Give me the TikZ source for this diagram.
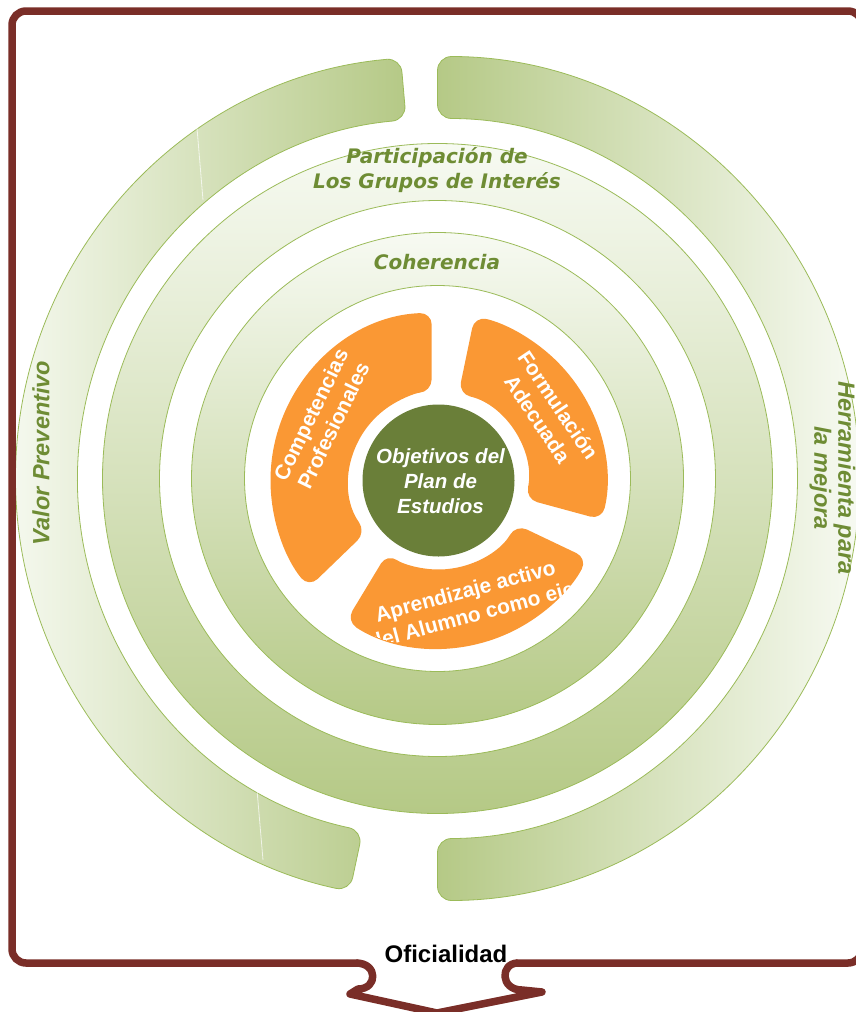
\documentclass[tikz,border=0pt]{standalone}
\usepackage{fontspec}
\setmainfont{Liberation Sans}
\newfontfamily\dejav{DejaVu Sans}
\begin{document}
\begin{tikzpicture}[x=1pt,y=1pt]
\definecolor{brn}{RGB}{122,46,40}
\definecolor{gdark}{RGB}{181,201,134}
\definecolor{glight}{RGB}{247,250,242}
\definecolor{gline}{RGB}{155,187,89}
\definecolor{olv}{RGB}{110,140,52}
\definecolor{orng}{RGB}{250,152,52}
\definecolor{cgreen}{RGB}{106,127,57}
\tikzset{
  band/.style={draw=gline, line width=0.8pt},
  ringlbl/.style={text=olv, font=\dejav\bfseries\itshape\fontsize{20}{25}\selectfont, align=center, inner sep=0pt},
  sidelbl/.style={text=olv, font=\bfseries\itshape\fontsize{23.5}{24}\selectfont, align=center, inner sep=0pt},
  otext/.style={text=white, font=\bfseries\fontsize{21}{25}\selectfont, align=center, inner sep=0pt},
  ctext/.style={text=white, font=\bfseries\itshape\fontsize{20.5}{25}\selectfont, align=center, inner sep=0pt},
  segfill/.style={fill=orng, rounded corners=12pt},
  frame/.style={draw=brn, line width=7.5pt, line join=round},
  gleam/.style={draw=white, line width=0.8pt, opacity=0.7}
}
\useasboundingbox (0,0) rectangle (856,-1012);
\clip (0,0) rectangle (856,-1012);
\coordinate (C) at (437.5,-478.5);
\coordinate (D) at (438.5,-480.5);
\def\seg#1#2#3#4{([shift={(D)}]#1:168) arc[start angle=#1,end angle=#2,radius=168] -- ([shift={(D)}]#4:89) arc[start angle=#4,end angle=#3,radius=89] -- cycle}

% outer side bands
\path[band, left color=glight, right color=gdark, rounded corners=14pt]
  ([shift={(C)}]95:422) arc[start angle=95,end angle=258,radius=422]
  -- ([shift={(C)}]258:360) arc[start angle=258,end angle=95,radius=360] -- cycle;
\path[band, left color=gdark, right color=glight, rounded corners=14pt]
  ([shift={(C)}]-90:422) arc[start angle=-90,end angle=90,radius=422]
  -- ([shift={(C)}]90:360) arc[start angle=90,end angle=-90,radius=360] -- cycle;
\draw[gleam] (197,-128) -- (203,-200);
\draw[gleam] (257,-790) -- (263,-860);

% rings
\path[band, top color=glight, bottom color=gdark, even odd rule]
  (C) circle[radius=335] (C) circle[radius=278];
\path[band, top color=glight, bottom color=gdark, even odd rule]
  (C) circle[radius=246] (C) circle[radius=193];

% orange segments
\path[segfill] \seg{92.3}{219.5}{94.5}{215.5};
\path[segfill] \seg{-13.5}{77.6}{-12}{77};
\path[segfill] \seg{236.7}{332.4}{234.8}{330.5};

% centre
\fill[cgreen] (D) circle[radius=76];
\node[ctext] (obj) at (440.5,-481) {Objetivos del\\Plan de\\Estudios};

\node[otext, rotate=64] (comp) at (322,-420) {Competencias\\Profesionales};
\node[otext, rotate=-56] (form) at (548,-412) {Formulación\\Adecuada};
\begin{scope}
  \clip \seg{236.7}{332.4}{234.8}{330.5};
  \node[otext, rotate=15] (apr) at (469,-605) {Aprendizaje activo\\del Alumno como eje};
\end{scope}

% labels
\node[ringlbl] (part) at (437,-170) {Participación de\\Los Grupos de Interés};
\node[ringlbl] (coh) at (437,-262) {Coherencia};
\node[sidelbl, rotate=90] (valor) at (41,-453) {Valor Preventivo};
\node[sidelbl, rotate=-90] (herr) at (832.5,-478) {Herramienta para\\la mejora};

% frame
\draw[frame, rounded corners=14pt] (358,-963) -- (12,-963) -- (12,-11) -- (862,-11) -- (862,-963) -- (516,-963);
\draw[frame] (356,-963) .. controls (378,-963) and (378,-989) .. (358,-989)
  -- (350,-994) -- (437,-1013) -- (542,-992) -- (522,-990)
  .. controls (500,-990) and (500,-963) .. (518,-963);
\node[font=\bfseries\fontsize{24}{28}\selectfont, inner sep=0pt] (ofi) at (446,-954) {Oficialidad};
\end{tikzpicture}
\end{document}
